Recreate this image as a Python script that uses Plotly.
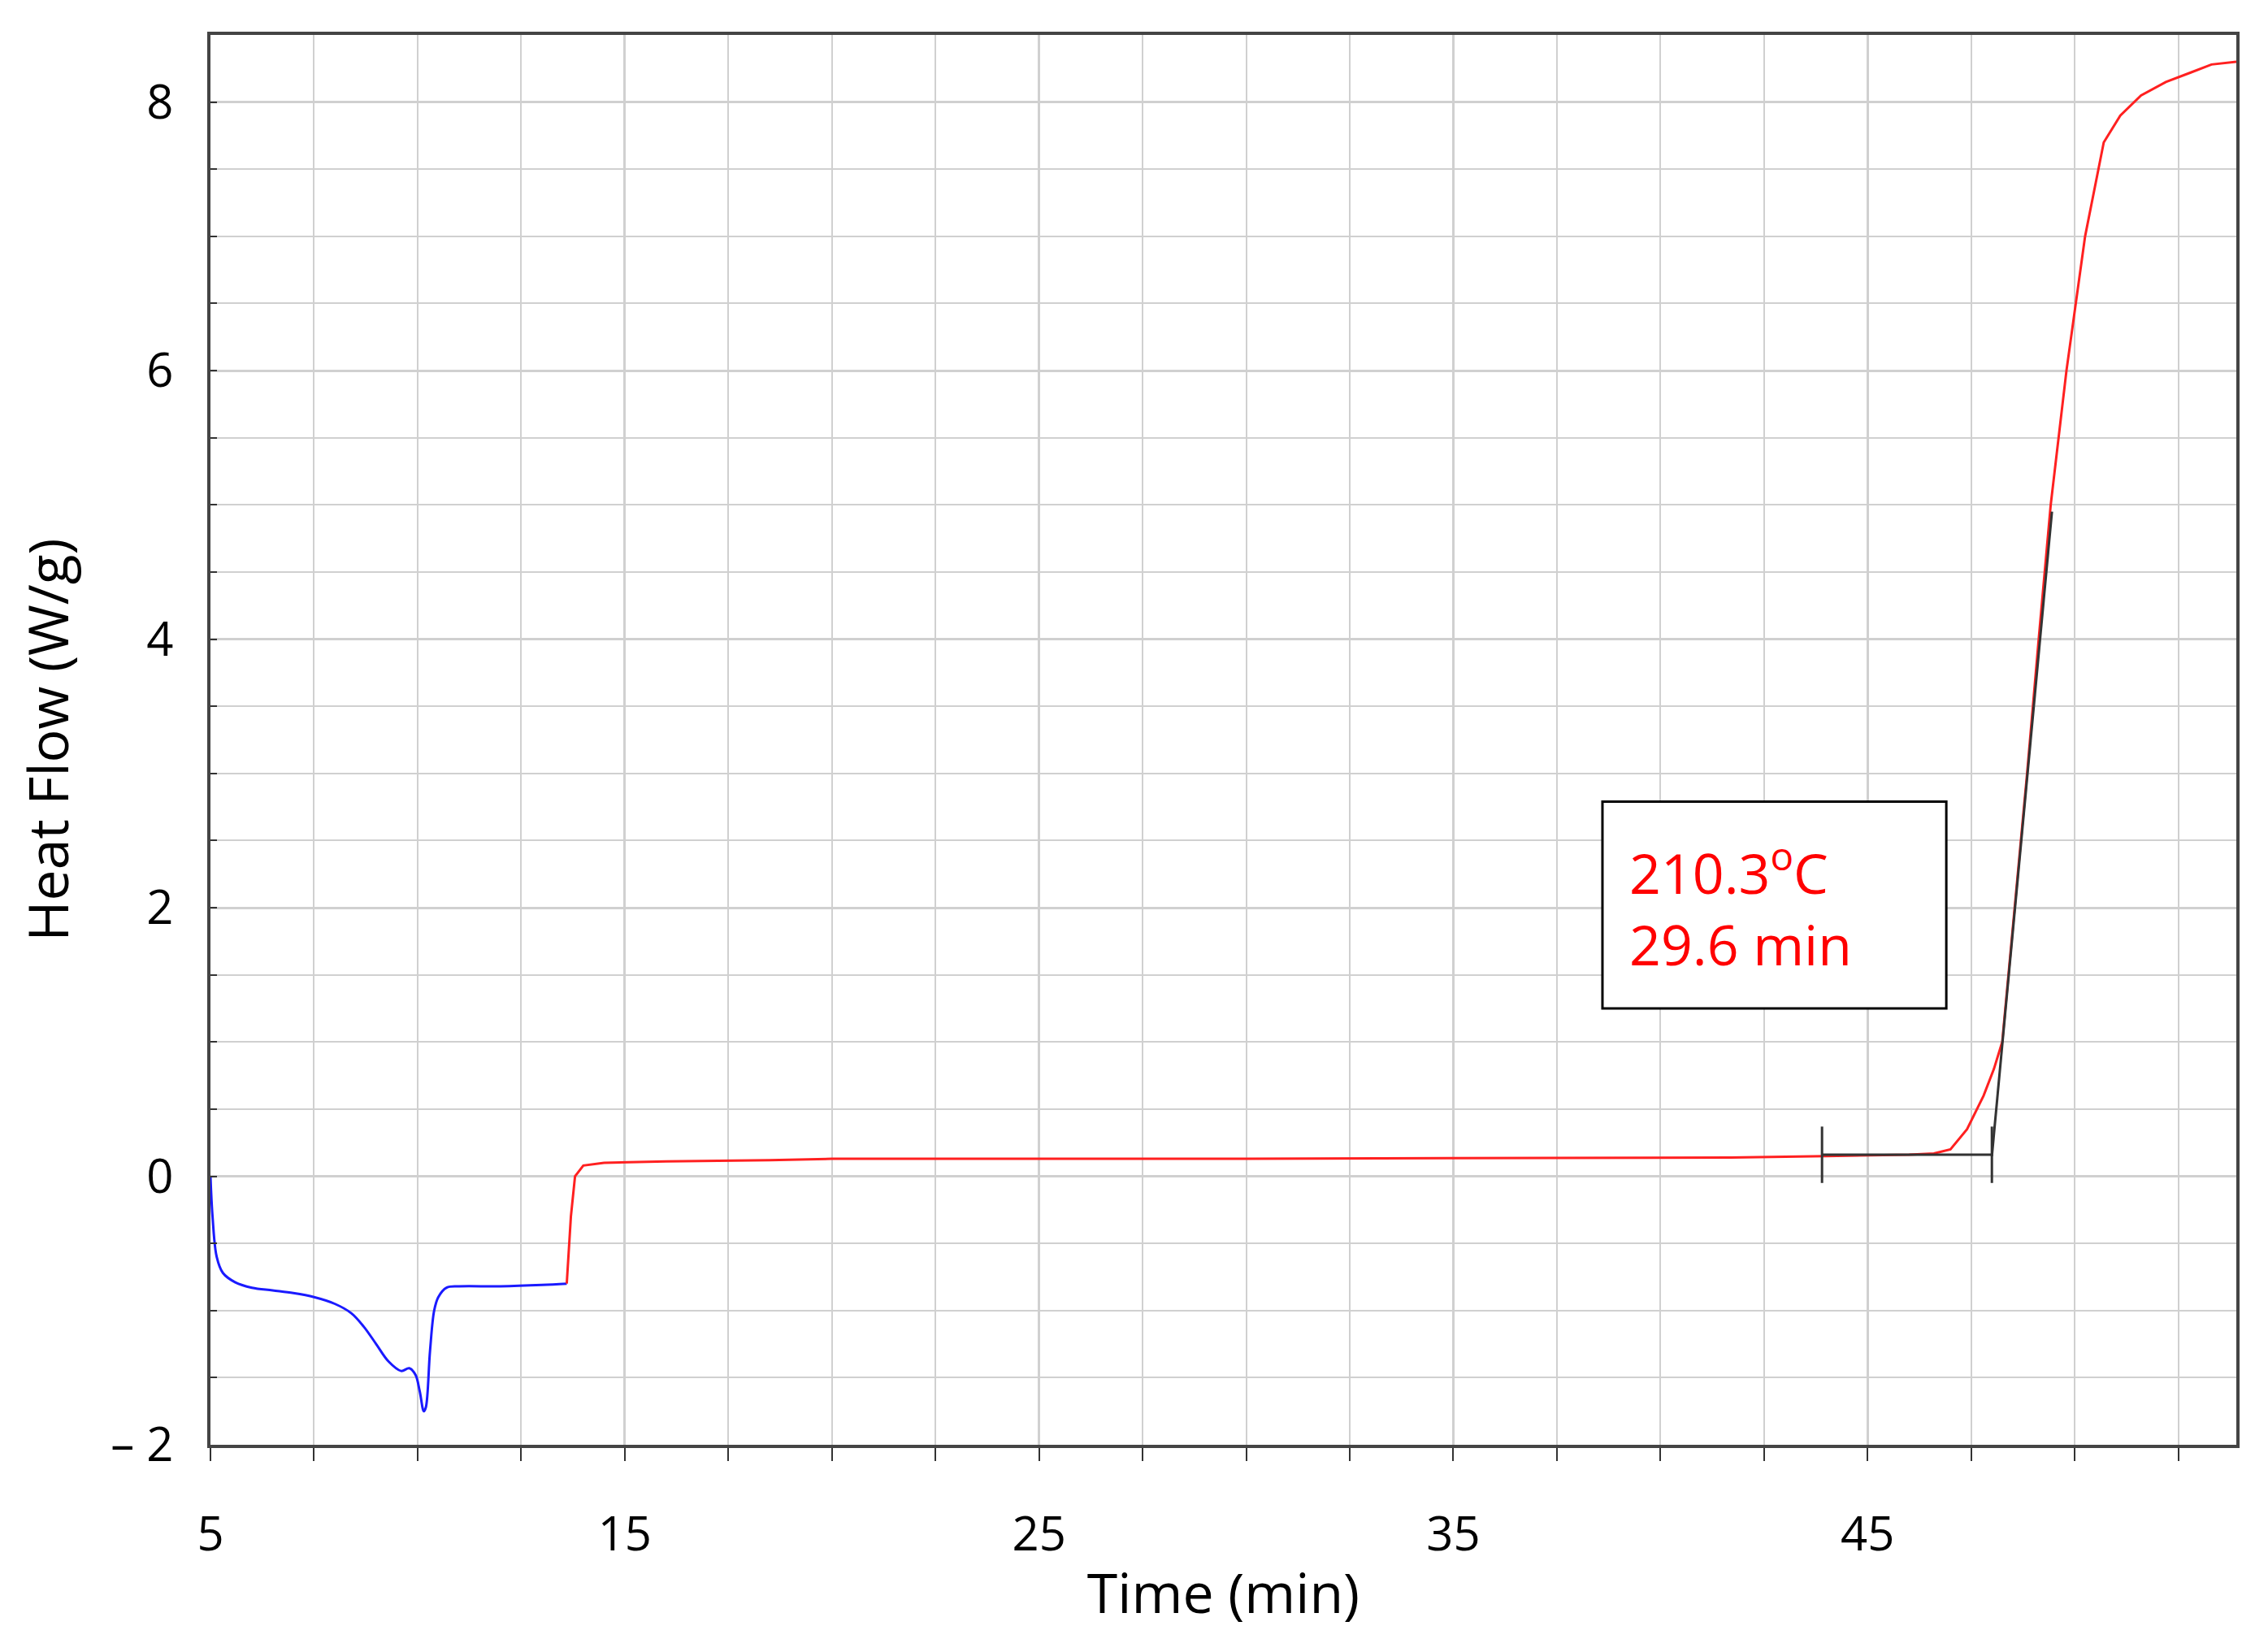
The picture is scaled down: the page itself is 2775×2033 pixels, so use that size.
import plotly.graph_objects as go

# blue segment (endotherm), red segment (cure)
blue_t = [5.0, 5.05, 5.15, 5.3, 5.6, 6.0, 6.5, 7.0, 7.5, 8.0, 8.4, 8.7, 9.0, 9.3, 9.6, 9.8, 9.95, 10.05, 10.15, 10.2, 10.3, 10.4, 10.5, 10.7, 11.0, 12.0, 13.0, 13.6]
blue_hf = [0.0, -0.3, -0.6, -0.72, -0.79, -0.83, -0.85, -0.87, -0.9, -0.95, -1.02, -1.12, -1.25, -1.38, -1.45, -1.43, -1.48, -1.6, -1.75, -1.72, -1.3, -1.0, -0.9, -0.83, -0.82, -0.82, -0.81, -0.8]
red_t = [13.6, 13.7, 13.8, 14.0, 14.5, 16.0, 18.5, 20.0, 30.0, 41.7, 44.0, 46.0, 46.6, 47.0, 47.4, 47.8, 48.05, 48.25, 48.55, 48.85, 49.13, 49.42, 49.8, 50.25, 50.7, 51.1, 51.6, 52.2, 52.8, 53.3, 53.9]
red_hf = [-0.8, -0.3, 0.0, 0.08, 0.1, 0.11, 0.12, 0.13, 0.13, 0.14, 0.15, 0.16, 0.17, 0.2, 0.35, 0.6, 0.8, 1.0, 2.0, 3.0, 4.0, 5.0, 6.0, 7.0, 7.7, 7.9, 8.05, 8.15, 8.22, 8.28, 8.3]
base_t = [43.9, 48.0]
base_hf = [0.16, 0.16]
tan_t = [48.0, 49.45]
tan_hf = [0.15, 4.95]
x_ticks = [5, 15, 25, 35, 45]
y_ticks = [-2, 0, 2, 4, 6, 8]
y_labels = ["\u2013 2", "0", "2", "4", "6", "8"]

fig = go.Figure()
fig.add_trace(go.Scatter(x=blue_t, y=blue_hf, mode="lines", line=dict(color="#1a1aff", width=3, shape="spline")))
fig.add_trace(go.Scatter(x=red_t, y=red_hf, mode="lines", line=dict(color="#ff2020", width=3)))
fig.add_trace(go.Scatter(x=base_t, y=base_hf, mode="lines", line=dict(color="#333333", width=3)))
fig.add_trace(go.Scatter(x=tan_t, y=tan_hf, mode="lines", line=dict(color="#333333", width=3)))
for t in base_t:
    fig.add_shape(type="line", x0=t, x1=t, y0=-0.05, y1=0.37, line=dict(color="#333333", width=3))

fig.add_shape(type="rect", x0=38.6, x1=46.9, y0=1.25, y1=2.79, line=dict(color="black", width=3), fillcolor="white")
fig.add_annotation(x=39.2, y=2.02, xanchor="left", showarrow=False, align="left",
                   text="210.3<sup>o</sup>C<br>29.6 min",
                   font=dict(family="Open Sans", size=68, color="#ff0000"))

font = dict(family="Open Sans", size=58, color="black")
title_font = dict(family="Open Sans", size=68, color="black")
fig.update_layout(
    width=2775, height=2033,
    margin=dict(l=251, r=31, t=35, b=263),
    plot_bgcolor="white", paper_bgcolor="white",
    showlegend=False,
    xaxis=dict(range=[5, 53.9], tickvals=x_ticks, showgrid=True, gridcolor="#d0d0d0", gridwidth=3,
               minor=dict(dtick=2.5, showgrid=True, gridcolor="#d0d0d0", gridwidth=2, ticks="outside", ticklen=16, tickcolor="#333"),
               ticks="outside", ticklen=16, tickwidth=2, tickcolor="#333", zeroline=False,
               showline=True, linecolor="#444", linewidth=4, mirror=True, tickfont=font,
               title=dict(text="Time (min)", font=title_font), ticklabelstandoff=40),
    yaxis=dict(range=[-2, 8.5], tickvals=y_ticks, ticktext=y_labels, showgrid=True, gridcolor="#d0d0d0", gridwidth=3,
               minor=dict(dtick=0.5, showgrid=True, gridcolor="#d0d0d0", gridwidth=2, ticks="inside", ticklen=8, tickcolor="#333"),
               ticks="inside", ticklen=8, tickwidth=2, tickcolor="#333", zeroline=False,
               showline=True, linecolor="#444", linewidth=4, mirror=True, tickfont=font,
               title=dict(text="Heat Flow (W/g)", font=title_font, standoff=30), ticklabelstandoff=30),
)
fig.write_html("out.html")
